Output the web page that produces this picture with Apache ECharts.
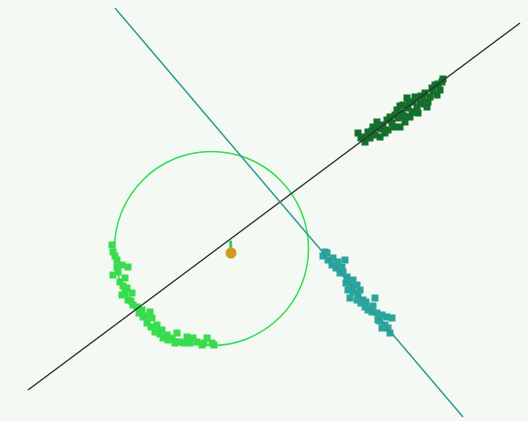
<!DOCTYPE html>
<html>
<head>
<meta charset="utf-8">
<script src="https://cdn.jsdelivr.net/npm/echarts@6/dist/echarts.min.js"></script>
<style>
  html, body { margin: 0; padding: 0; background: #f4faf3; }
  #chart { width: 528px; height: 421px; }
</style>
</head>
<body>
<div id="chart"></div>
<script>
// Cluster along the rising axis (upper right)
const clusterA = [
  [35.8, 28.8], [36.3, 28.4], [36.8, 28.9], [37.0, 28.3], [37.5, 28.6], [37.8, 29.3],
  [38.0, 28.4], [37.7, 29.9], [38.3, 29.6], [38.7, 30.1], [38.8, 29.1], [39.2, 29.8],
  [39.5, 30.6], [39.7, 31.1], [39.8, 30.3], [40.2, 30.8], [40.3, 31.6], [40.5, 29.9],
  [40.8, 31.3], [41.0, 30.4], [41.3, 31.9], [41.5, 32.4], [41.7, 31.3], [41.8, 30.8],
  [42.0, 31.8], [42.3, 32.3], [42.5, 32.8], [42.7, 31.4], [43.0, 32.4], [43.2, 33.3],
  [43.5, 33.6], [43.7, 32.6], [44.0, 33.1], [44.2, 33.9], [44.3, 34.2], [42.8, 31.9],
  [41.2, 30.9], [40.0, 29.4], [38.5, 28.8], [37.3, 29.4], [36.5, 27.9], [40.7, 32.3],
  [36.1, 28.3], [37.2, 29.0], [38.2, 29.2], [39.0, 30.4], [39.4, 29.4], [40.0, 31.5],
  [40.4, 30.5], [40.9, 31.9], [41.4, 30.9], [42.1, 32.5], [42.4, 31.7], [43.3, 33.0],
  [43.8, 33.7]
];

// Cluster along the falling axis (lower right)
const clusterB = [
  [32.5, 16.9], [32.8, 16.1], [33.3, 16.3], [33.2, 15.6], [33.8, 15.9], [34.2, 15.4],
  [34.5, 16.1], [34.0, 14.8], [34.3, 14.9], [34.7, 14.4], [35.0, 13.8], [35.3, 14.1],
  [35.7, 13.6], [34.8, 13.1], [35.3, 12.9], [36.0, 13.1], [35.8, 12.6], [35.0, 12.3],
  [35.7, 12.1], [36.3, 12.1], [37.5, 12.3], [36.5, 11.4], [36.8, 11.1], [37.2, 10.9],
  [37.7, 10.8], [38.2, 10.6], [38.7, 10.4], [39.2, 10.3], [38.0, 10.0], [38.5, 9.6],
  [38.2, 9.3], [39.0, 8.8], [38.8, 9.3], [32.3, 16.5], [33.6, 15.3], [34.6, 13.8],
  [35.2, 13.4], [36.1, 11.8], [36.6, 11.9], [37.3, 11.5], [37.8, 10.1], [32.7, 16.8]
];

// Cluster along the lower-left arc of the ring
const clusterC = [
  [11.2, 17.6], [11.3, 16.9], [11.7, 16.1], [12.2, 15.6], [12.8, 15.4], [11.3, 14.6],
  [11.8, 14.9], [12.0, 13.9], [12.5, 14.3], [12.7, 13.3], [13.2, 12.8], [12.2, 12.6],
  [12.8, 12.1], [13.3, 11.6], [13.7, 11.4], [14.2, 11.1], [14.3, 10.4], [15.0, 10.9],
  [15.2, 10.3], [14.7, 9.8], [15.7, 9.6], [15.5, 8.9], [16.2, 9.1], [16.7, 8.6],
  [16.3, 8.3], [17.2, 8.3], [17.7, 8.8], [18.0, 7.9], [18.7, 8.4], [19.0, 7.8],
  [19.7, 7.9], [20.2, 7.6], [20.7, 8.3], [21.2, 7.8], [21.4, 7.6], [11.5, 16.5],
  [11.7, 15.4], [12.3, 13.5], [12.5, 12.8], [13.1, 12.0], [13.9, 10.8], [14.7, 10.5],
  [15.1, 9.4], [16.0, 8.7], [16.8, 8.1], [17.5, 7.8], [18.4, 7.8], [19.3, 8.3],
  [20.4, 7.8]
];

// Principal axes
const axisRising = [[2.8, 3.1], [52.0, 39.8]];
const axisFalling = [[11.5, 41.3], [46.3, 0.4]];

// Ring: centre x, centre y, radius
const ring = [[21.15, 17.25, 9.7]];

// Mean point and its short offset stem
const meanPoint = [[23.1, 16.8]];
const meanStem = [[23.1, 16.95], [23.05, 18.05]];

const chart = echarts.init(document.getElementById('chart'), null, { renderer: 'canvas' });

const dots = (data, color) => ({
  type: 'scatter', data: data, symbol: 'rect', symbolSize: 7, z: 2,
  itemStyle: { color: color, opacity: 1 }
});

chart.setOption({
  animation: false,
  backgroundColor: '#f4faf3',
  grid: { left: 0, right: 0, top: 0, bottom: 0 },
  xAxis: { type: 'value', min: 0, max: 52.8, show: false },
  yAxis: { type: 'value', min: 0, max: 42.1, show: false },
  series: [
    dots(clusterA, '#146e2c'),
    dots(clusterB, '#2aa59e'),
    dots(clusterC, '#38dc4c'),
    {
      type: 'custom', data: ring, z: 3,
      encode: { x: 0, y: 1 },
      renderItem: function (params, api) {
        const c = api.coord([api.value(0), api.value(1)]);
        const r = api.size([api.value(2), 0])[0];
        return {
          type: 'circle',
          shape: { cx: c[0], cy: c[1], r: r },
          style: { fill: 'none', stroke: '#33dc55', lineWidth: 1.5 }
        };
      }
    },
    {
      type: 'line', data: axisRising, showSymbol: false, z: 4,
      lineStyle: { color: '#27352b', width: 1.5 }
    },
    {
      type: 'line', data: axisFalling, showSymbol: false, z: 4,
      lineStyle: { color: '#2e9c92', width: 1.5 }
    },
    {
      type: 'line', data: meanStem, showSymbol: false, z: 5,
      lineStyle: { color: '#3ed060', width: 3 }
    },
    {
      type: 'scatter', data: meanPoint, symbol: 'circle', symbolSize: 11, z: 6,
      itemStyle: { color: '#d29a1c', opacity: 1 }
    }
  ]
});
</script>
</body>
</html>
